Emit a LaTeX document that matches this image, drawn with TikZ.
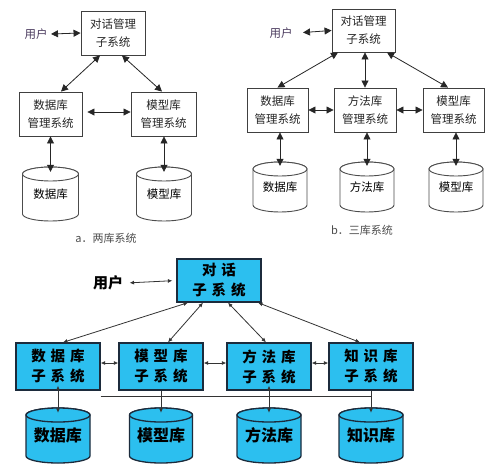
\documentclass[tikz,border=0pt]{standalone}
\usepackage{fontspec}
\newfontfamily\cjk{Noto Sans CJK SC}
\usetikzlibrary{arrows.meta,calc}
\definecolor{cy}{HTML}{2CBFEF}
\definecolor{cb}{HTML}{1C2B3C}
\definecolor{usr}{HTML}{4A3A5E}
\newcommand\cylnode[8]{%
  \path[#7] (#2-#5,#3+#6) -- (#2-#5,#4-#6) arc[start angle=180,end angle=360,x radius=#5pt,y radius=#6pt] -- (#2+#5,#3+#6) arc[start angle=0,end angle=180,x radius=#5pt,y radius=#6pt] -- cycle;
  \path[#7] (#2,#3+#6) ellipse[x radius=#5pt,y radius=#6pt];
  \node[inner sep=0pt,minimum width={2*#5pt},minimum height={(#4-#3)*1pt}] (#1) at (#2,{(#3+#4)/2}) {#8};
}
\newcommand\gp{\hspace{5pt}}
\tikzset{
  tbox/.style={draw=black!75,line width=0.9pt,fill=white,inner sep=0pt,align=center,
    font=\cjk\fontsize{11.5}{18}\selectfont,text=black!85},
  tcyl/.style={draw=black!70,line width=0.9pt,fill=white},
  ttext/.style={font=\cjk\fontsize{11.5}{18}\selectfont,text=black!85},
  tarr/.style={{Triangle[length=7pt,width=7pt]}-{Triangle[length=7pt,width=7pt]},line width=0.8pt,draw=black!85},
  cbox/.style={draw=cb,line width=1.3pt,fill=cy,inner sep=0pt,align=center,
    font=\cjk\bfseries\fontsize{14.5}{20}\selectfont,text=black},
  ccyl/.style={draw=cb,line width=1.3pt,fill=cy},
  cctext/.style={font=\cjk\bfseries\fontsize{16}{20}\selectfont,text=black},
  carr/.style={draw=black!80,line width=0.8pt},
  ctip/.style={{Latex[length=4.5pt,width=4pt]}-{Latex[length=4.5pt,width=4pt]},carr},
  ctipd/.style={-{Latex[length=4.5pt,width=4pt]},carr},
  captxt/.style={font=\cjk\fontsize{11}{14}\selectfont,text=black!70}
}
\begin{document}
\begin{tikzpicture}[x=1pt,y=-1pt]
\useasboundingbox[fill=white] (0,0) rectangle (490,467);

% ---------------- a: two-base system ----------------
\node[tbox,minimum width=64pt,minimum height=44pt] (aD) at (113,33) {对话管理\\子系统};
\node[ttext,text=usr] (aU) at (36,34) {用户};
\node[tbox,minimum width=63pt,minimum height=44pt] (aS) at (50.5,114) {数据库\\管理系统};
\node[tbox,minimum width=65pt,minimum height=44pt] (aM) at (163.5,114) {模型库\\管理系统};
\cylnode{aC1}{50.5}{167}{221}{28}{7}{tcyl}{\cjk\fontsize{11.5}{14}\selectfont 数据库}
\cylnode{aC2}{164}{167}{221}{27.5}{7}{tcyl}{\cjk\fontsize{11.5}{14}\selectfont 模型库}
\draw[tarr] (aU.east) -- (aD.west);
\draw[tarr] ([xshift=-13pt]aD.south) -- ([xshift=10.5pt]aS.north);
\draw[tarr] ([xshift=9pt]aD.south) -- ([xshift=-1.5pt]aM.north);
\draw[tarr,shorten <=5pt] ([yshift=2pt]aS.east) -- ([yshift=2pt]aM.west);
\draw[tarr] (aS.south) -- ([yshift=-5pt]aC1.north);
\draw[tarr] (aM.south -| aC2.north) -- ([yshift=-5pt]aC2.north);
\node[captxt] (capA) at (106,238) {a．两库系统};

% ---------------- b: three-base system ----------------
\node[tbox,minimum width=63pt,minimum height=43pt] (bD) at (363.5,30.5) {对话管理\\子系统};
\node[ttext,text=usr] (bU) at (281,33) {用户};
\node[tbox,minimum width=61pt,minimum height=44pt] (bS) at (277.5,110) {数据库\\管理系统};
\node[tbox,minimum width=62pt,minimum height=44pt] (bF) at (365,110) {方法库\\管理系统};
\node[tbox,minimum width=61pt,minimum height=44pt] (bM) at (453.5,110) {模型库\\管理系统};
\cylnode{bC1}{280}{162}{212}{27}{7}{tcyl}{\cjk\fontsize{11.5}{14}\selectfont 数据库}
\cylnode{bC2}{367}{162}{212}{27}{7}{tcyl}{\cjk\fontsize{11.5}{14}\selectfont 方法库}
\cylnode{bC3}{456}{162}{212}{27}{7}{tcyl}{\cjk\fontsize{11.5}{14}\selectfont 模型库}
\draw[tarr,shorten <=7pt] (bU.east) -- (bD.west);
\draw[tarr] ([xshift=-25.5pt]bD.south) -- (bS.north);
\draw[tarr] (bF.north |- bD.south) -- (bF.north);
\draw[tarr] ([xshift=23.5pt]bD.south) -- ([xshift=-5.5pt]bM.north);
\draw[tarr] (bS.east) -- (bF.west);
\draw[tarr] (bF.east) -- (bM.west);
\draw[tarr] (bC1.north |- bS.south) -- ([yshift=-4pt]bC1.north);
\draw[tarr] (bC2.north |- bF.south) -- ([yshift=-4pt]bC2.north);
\draw[tarr] (bC3.north |- bM.south) -- ([yshift=-4pt]bC3.north);
\node[captxt] (capB) at (362,230) {b．三库系统};

% ---------------- c: four-base system ----------------
\node[cbox,minimum width=84pt,minimum height=43pt] (cD) at (219,280.5) {对\gp 话\\子\gp 系\gp 统};
\node[cctext,font=\cjk\bfseries\fontsize{15}{18}\selectfont] (cU) at (108,283) {用户};
\node[cbox,minimum width=84pt,minimum height=47pt] (cS) at (58,366.5) {数\gp 据\gp 库\\子\gp 系\gp 统};
\node[cbox,minimum width=84pt,minimum height=47pt] (cMo) at (161,366.5) {模\gp 型\gp 库\\子\gp 系\gp 统};
\node[cbox,minimum width=84pt,minimum height=47pt] (cF) at (269,366.5) {方\gp 法\gp 库\\子\gp 系\gp 统};
\node[cbox,minimum width=84pt,minimum height=47pt] (cK) at (371,366.5) {知\gp 识\gp 库\\子\gp 系\gp 统};
\cylnode{cC1}{58}{408}{463}{32}{7}{ccyl}{\cjk\bfseries\fontsize{16}{20}\selectfont 数据库}
\cylnode{cC2}{161}{408}{463}{31.5}{7}{ccyl}{\cjk\bfseries\fontsize{16}{20}\selectfont 模型库}
\cylnode{cC3}{269}{408}{463}{32}{7}{ccyl}{\cjk\bfseries\fontsize{16}{20}\selectfont 方法库}
\cylnode{cC4}{371}{408}{463}{32}{7}{ccyl}{\cjk\bfseries\fontsize{16}{20}\selectfont 知识库}
\draw[ctip,shorten <=3pt,shorten >=4pt] (cU.east) -- (cD.west);
\draw[ctip] ([xshift=-31pt]cD.south) -- ([xshift=5pt]cS.north);
\draw[ctip] ([xshift=-16pt]cD.south) -- ([xshift=7pt]cMo.north);
\draw[ctip] ([xshift=9pt]cD.south) -- ([xshift=-3pt]cF.north);
\draw[ctip] ([xshift=39pt]cD.south) -- ([xshift=-11pt]cK.north);
\draw[ctip] ([yshift=3.5pt]cS.east) -- ([yshift=3.5pt]cMo.west);
\draw[ctip] ([yshift=3.5pt]cMo.east) -- ([yshift=3.5pt]cF.west);
\draw[ctip] ([yshift=3.5pt]cF.east) -- ([yshift=3.5pt]cK.west);
\draw[carr] ([yshift=-6pt]cS.south east) -- ([yshift=-6pt]cK.south);
\draw[ctip] ([yshift=5pt]cS.south) -- ([yshift=-5pt]cC1.north);
\draw[ctipd] (cMo.south) -- ([yshift=-5pt]cC2.north);
\draw[ctip] ([yshift=5pt]cF.south) -- ([yshift=-5pt]cC3.north);
\draw[ctipd] (cK.south) -- ([yshift=-5pt]cC4.north);
\end{tikzpicture}
\end{document}
